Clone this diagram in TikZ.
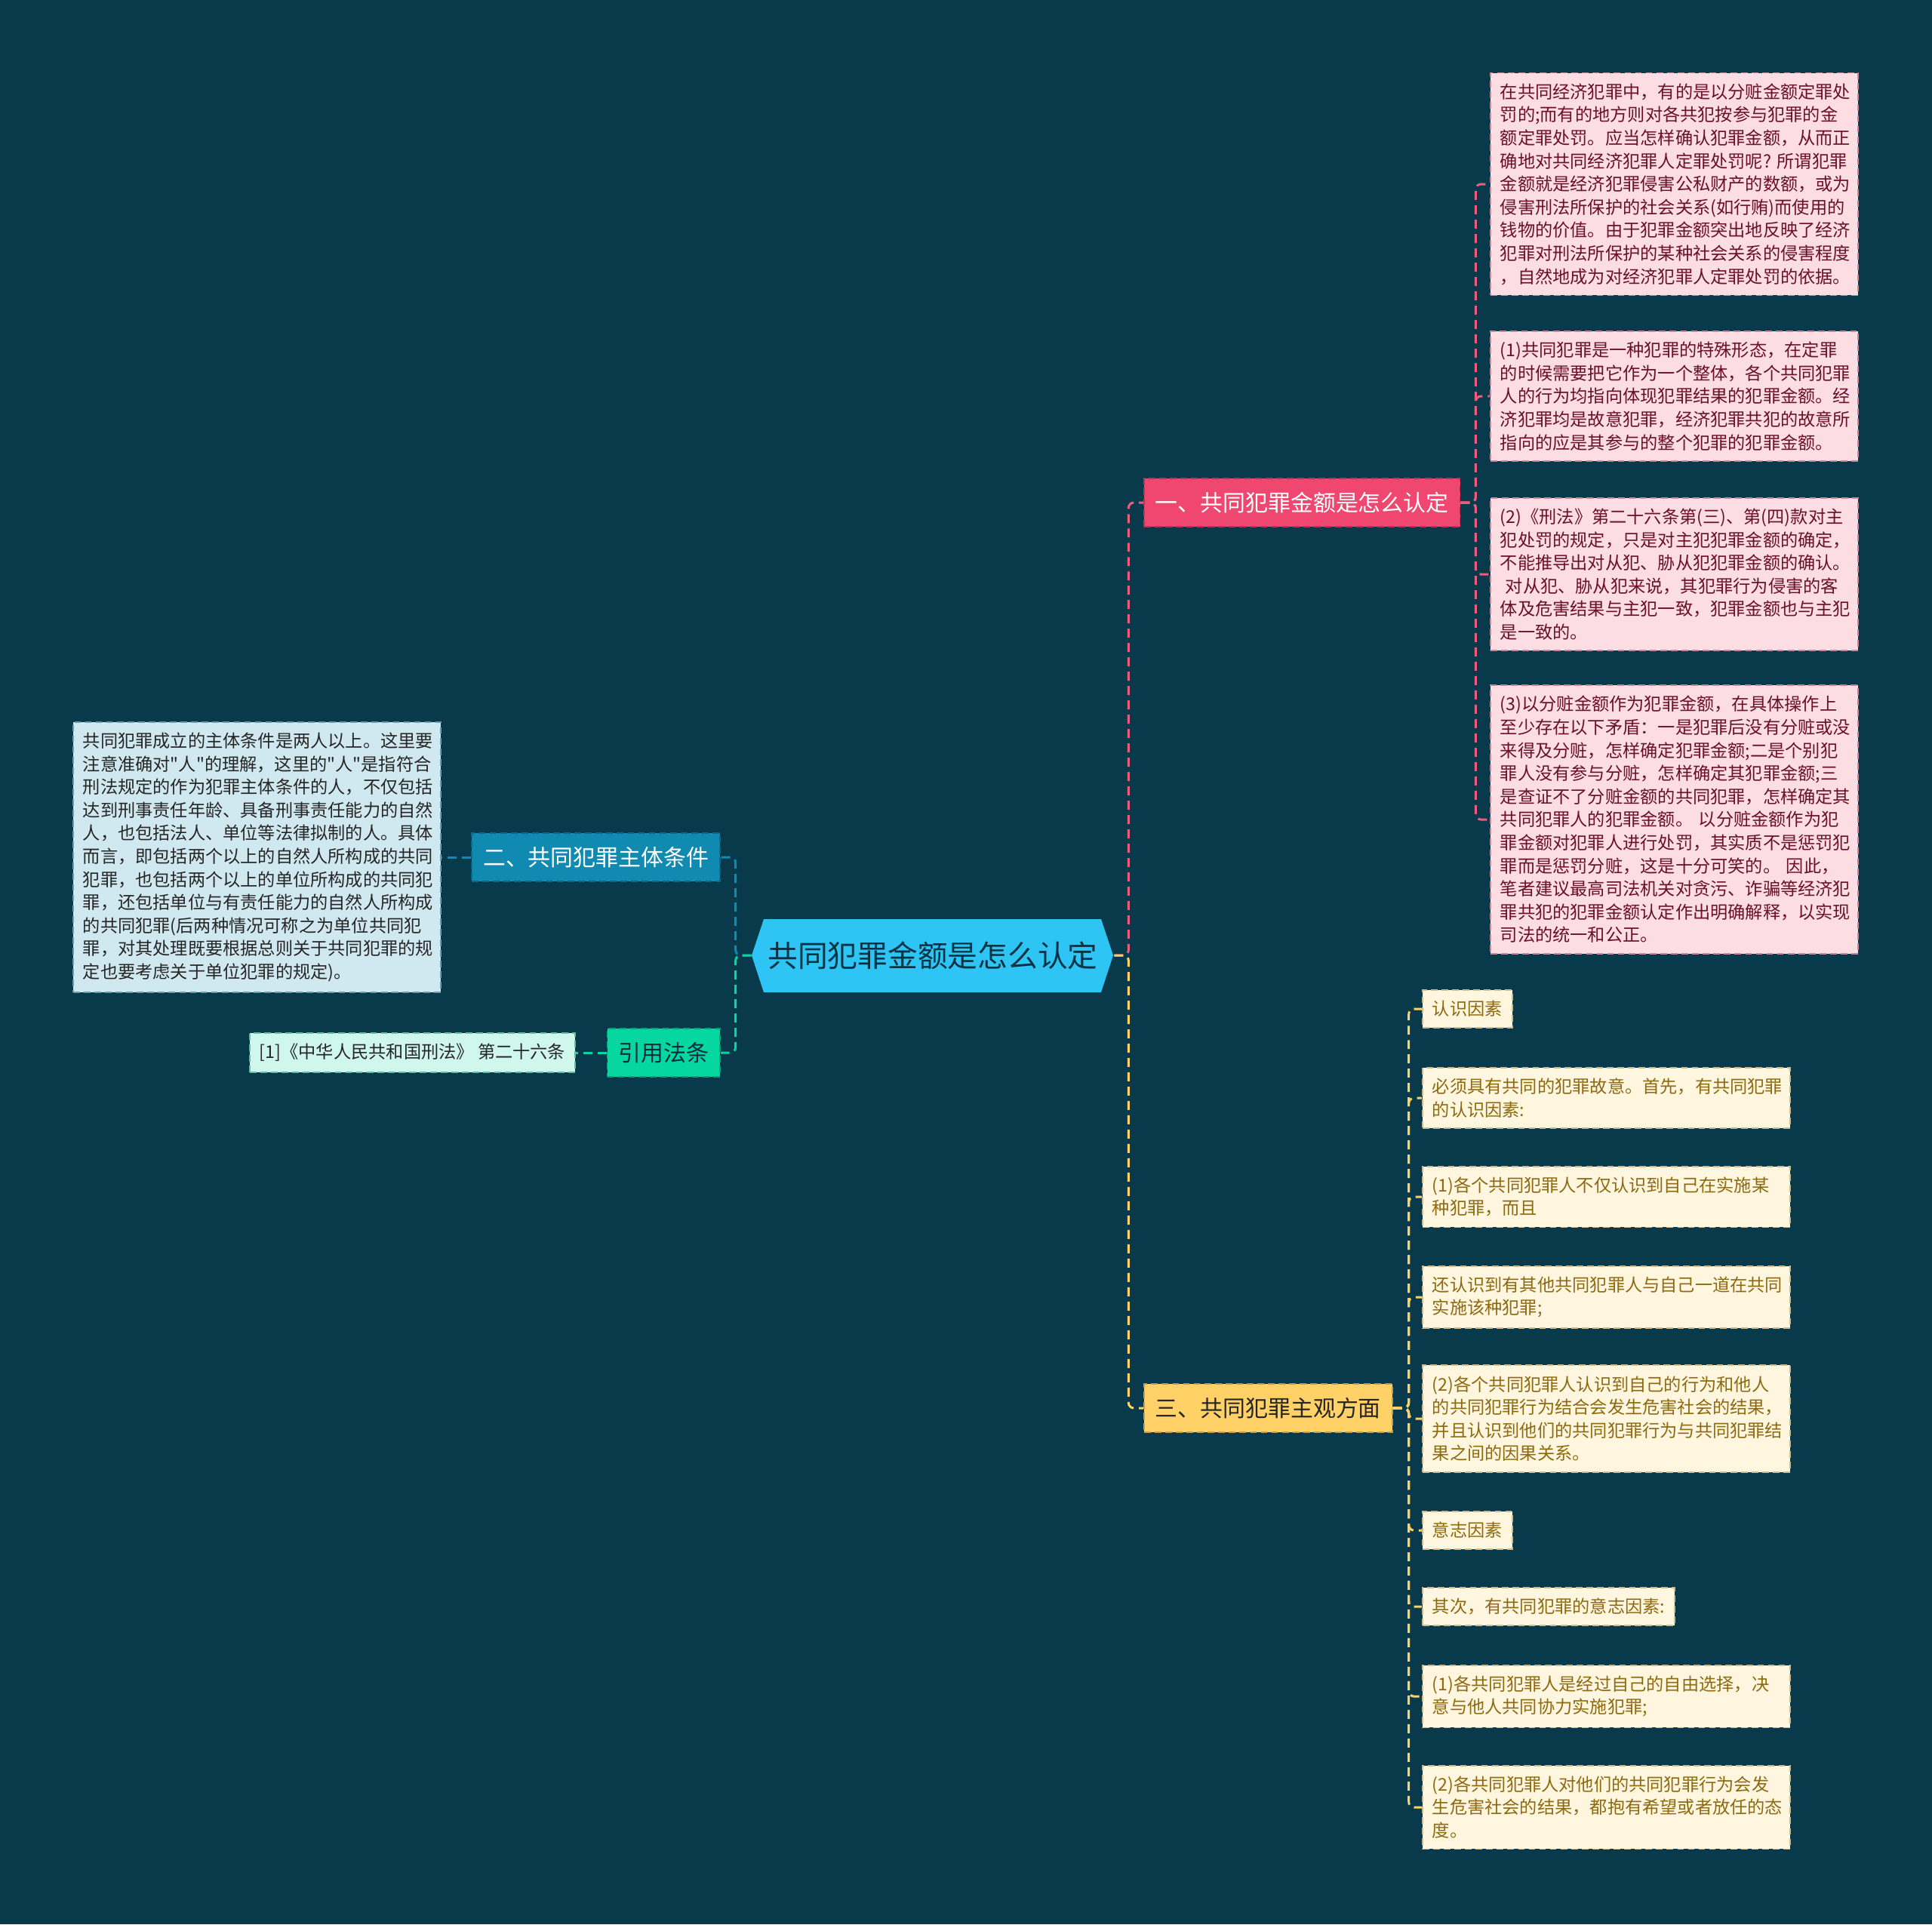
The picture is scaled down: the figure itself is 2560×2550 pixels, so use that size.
\documentclass[tikz,border=0pt]{standalone}
\usepackage{fontspec}
\setmainfont{Noto Sans CJK SC}[Ligatures=TeXOff]
\usepackage{tikz}
\usepackage{xcolor}
\definecolor{bgc}{HTML}{083A4C}
\definecolor{rootc}{HTML}{2EC5F5}
\definecolor{pinkc}{HTML}{EF476F}
\definecolor{pinkl}{HTML}{FCDDE4}
\definecolor{pinkt}{HTML}{6A1027}
\definecolor{yelc}{HTML}{FFD166}
\definecolor{yell}{HTML}{FFF6DF}
\definecolor{yelt}{HTML}{8D6A10}
\definecolor{bluc}{HTML}{118AB2}
\definecolor{blul}{HTML}{D0E8F0}
\definecolor{grnc}{HTML}{06D6A0}
\definecolor{grnl}{HTML}{D0F7EC}

\begin{document}
\begin{tikzpicture}[x=0.01cm,y=-0.01cm,
  leaf/.style={draw, dash pattern=on 2.5pt off 1.5pt, line width=0.5pt, align=left, inner xsep=0.13cm, inner ysep=0.14cm, font=\fontsize{6.6}{8.7}\selectfont},
  wide/.style={text width=4.61cm},
  branch/.style={draw, dash pattern=on 2.5pt off 1.5pt, line width=0.5pt, inner xsep=0.15cm, inner ysep=0.18cm, font=\fontsize{8.5}{10}\selectfont},
  conn/.style={dash pattern=on 3.4pt off 2pt, line width=0.85pt, rounded corners=2pt},
  pleaf/.style={leaf, fill=pinkl, draw=pinkc!35!pinkl!80!black, text=pinkt},
  yleaf/.style={leaf, fill=yell, draw=yelc!40!yell!80!black, text=yelt},
  pconn/.style={conn, draw=pinkc!90!white}, yconn/.style={conn, draw=yelc}, bconn/.style={conn, draw=bluc}, gconn/.style={conn, draw=grnc}]
  \fill[bgc] (0,0) rectangle (2560,2550);
  % center
  \fill[rootc] (996,1266) -- (1012,1218) -- (1459,1218) -- (1475,1266) -- (1459,1315) -- (1012,1315) -- cycle;
  \node[minimum width=4.79cm, minimum height=0.97cm, text=bgc!90!black, font=\fontsize{11.3}{13}\selectfont] (root) at (1236,1266) {共同犯罪金额是怎么认定};
  % branches
  \node[branch, anchor=west, fill=pinkc, draw=pinkc!75!black, text=white] (b1) at (1515,666) {一、共同犯罪金额是怎么认定};
  \node[branch, anchor=east, fill=bluc, draw=bluc!75!black, text=white] (b2) at (955,1136) {二、共同犯罪主体条件};
  \node[branch, anchor=west, fill=yelc, draw=yelc!75!black, text=black!85] (b3) at (1515,1866) {三、共同犯罪主观方面};
  \node[branch, anchor=east, fill=grnc, draw=grnc!75!black, text=bgc!80!black] (b4) at (955,1395) {引用法条};
  % pink leaves
  \node[pleaf, wide, anchor=west] (p1) at (1974,244) {在共同经济犯罪中，有的是以分赃金额定罪处\\罚的;而有的地方则对各共犯按参与犯罪的金\\额定罪处罚。应当怎样确认犯罪金额，从而正\\确地对共同经济犯罪人定罪处罚呢?~所谓犯罪\\金额就是经济犯罪侵害公私财产的数额，或为\\侵害刑法所保护的社会关系(如行贿)而使用的\\钱物的价值。由于犯罪金额突出地反映了经济\\犯罪对刑法所保护的某种社会关系的侵害程度\\，自然地成为对经济犯罪人定罪处罚的依据。};
  \node[pleaf, wide, anchor=west] (p2) at (1974,525) {(1)共同犯罪是一种犯罪的特殊形态，在定罪\\的时候需要把它作为一个整体，各个共同犯罪\\人的行为均指向体现犯罪结果的犯罪金额。经\\济犯罪均是故意犯罪，经济犯罪共犯的故意所\\指向的应是其参与的整个犯罪的犯罪金额。};
  \node[pleaf, wide, anchor=west] (p3) at (1974,761) {(2)《刑法》第二十六条第(三)、第(四)款对主\\犯处罚的规定，只是对主犯犯罪金额的确定，\\不能推导出对从犯、胁从犯犯罪金额的确认。\\\hspace*{0.3em}对从犯、胁从犯来说，其犯罪行为侵害的客\\体及危害结果与主犯一致，犯罪金额也与主犯\\是一致的。};
  \node[pleaf, wide, anchor=west] (p4) at (1974,1086) {(3)以分赃金额作为犯罪金额，在具体操作上\\至少存在以下矛盾：一是犯罪后没有分赃或没\\来得及分赃，怎样确定犯罪金额;二是个别犯\\罪人没有参与分赃，怎样确定其犯罪金额;三\\是查证不了分赃金额的共同犯罪，怎样确定其\\共同犯罪人的犯罪金额。~以分赃金额作为犯\\罪金额对犯罪人进行处罚，其实质不是惩罚犯\\罪而是惩罚分赃，这是十分可笑的。~因此，\\笔者建议最高司法机关对贪污、诈骗等经济犯\\罪共犯的犯罪金额认定作出明确解释，以实现\\司法的统一和公正。};
  % blue and green leaves
  \node[leaf, wide, anchor=east, fill=blul, draw=bluc!40!blul!80!black, text=black!85] (bl) at (585,1136) {共同犯罪成立的主体条件是两人以上。这里要\\注意准确对"人"的理解，这里的"人"是指符合\\刑法规定的作为犯罪主体条件的人，不仅包括\\达到刑事责任年龄、具备刑事责任能力的自然\\人，也包括法人、单位等法律拟制的人。具体\\而言，即包括两个以上的自然人所构成的共同\\犯罪，也包括两个以上的单位所构成的共同犯\\罪，还包括单位与有责任能力的自然人所构成\\的共同犯罪(后两种情况可称之为单位共同犯\\罪，对其处理既要根据总则关于共同犯罪的规\\定也要考虑关于单位犯罪的规定)。};
  \node[leaf, anchor=east, fill=grnl, draw=grnc!40!grnl!80!black, text=black!85] (gl) at (763,1395) {[1]《中华人民共和国刑法》~第二十六条};
  % yellow leaves
  \node[yleaf, anchor=west] (y1) at (1884,1337) {认识因素};
  \node[yleaf, wide, anchor=west] (y2) at (1884,1455) {必须具有共同的犯罪故意。首先，有共同犯罪\\的认识因素:};
  \node[yleaf, wide, anchor=west] (y3) at (1884,1586) {(1)各个共同犯罪人不仅认识到自己在实施某\\种犯罪，而且};
  \node[yleaf, wide, anchor=west] (y4) at (1884,1719) {还认识到有其他共同犯罪人与自己一道在共同\\实施该种犯罪;};
  \node[yleaf, wide, anchor=west] (y5) at (1884,1880) {(2)各个共同犯罪人认识到自己的行为和他人\\的共同犯罪行为结合会发生危害社会的结果，\\并且认识到他们的共同犯罪行为与共同犯罪结\\果之间的因果关系。};
  \node[yleaf, anchor=west] (y6) at (1884,2028) {意志因素};
  \node[yleaf, anchor=west] (y7) at (1884,2129) {其次，有共同犯罪的意志因素:};
  \node[yleaf, wide, anchor=west] (y8) at (1884,2248) {(1)各共同犯罪人是经过自己的自由选择，决\\意与他人共同协力实施犯罪;};
  \node[yleaf, wide, anchor=west] (y9) at (1884,2395) {(2)各共同犯罪人对他们的共同犯罪行为会发\\生危害社会的结果，都抱有希望或者放任的态\\度。};
  % connectors
  \draw[pconn] (root.east) -- ++(19,0) |- (b1.west);
  \draw[yconn] (root.east) -- ++(19,0) |- (b3.west);
  \draw[bconn] (root.west) -- ++(-21,0) |- (b2.east);
  \draw[gconn] (root.west) -- ++(-21,0) |- (b4.east);
  \foreach \n in {1,...,4} \draw[pconn] (b1.east) -- ++(20,0) |- (p\n.west);
  \foreach \n in {1,...,9} \draw[yconn] (b3.east) -- ++(21,0) |- (y\n.west);
  \draw[bconn] (b2.west) -- (bl.east); \draw[gconn] (b4.west) -- (gl.east);
\end{tikzpicture}
\end{document}
